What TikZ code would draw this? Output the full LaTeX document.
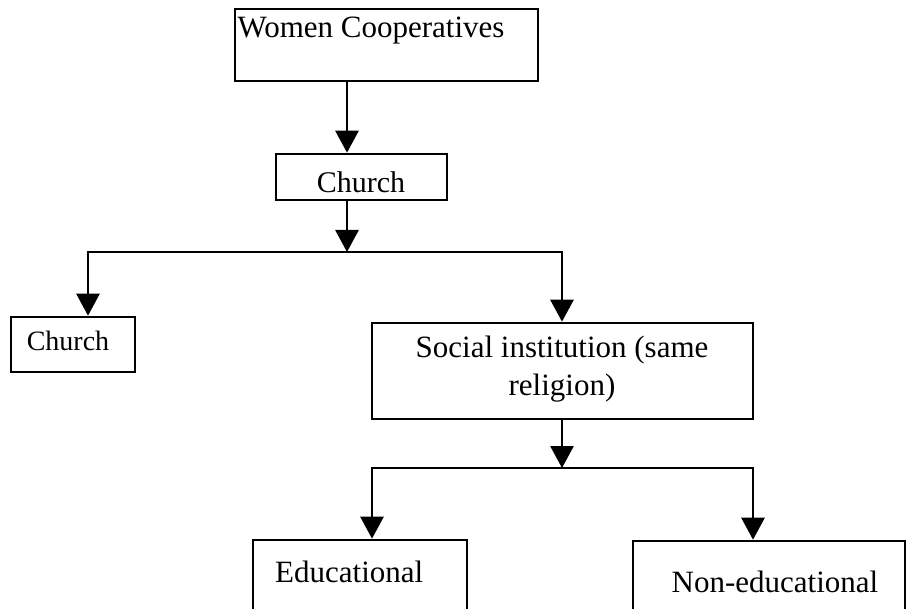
\documentclass[tikz,border=0pt]{standalone}
\usepackage{fontspec}
\setmainfont{Liberation Serif}
\usetikzlibrary{arrows.meta}
\begin{document}
\begin{tikzpicture}[x=1pt,y=-1pt,
  box/.style={draw, line width=2.6pt, inner sep=0pt, rectangle},
  txt/.style={inner sep=0pt, font=\fontsize{31}{38}\selectfont},
  midtxt/.style={inner sep=0pt, font=\fontsize{30}{36}\selectfont},
  smalltxt/.style={inner sep=0pt, font=\fontsize{28}{34}\selectfont},
  conn/.style={line width=2.8pt},
  arr/.style={conn, -{Triangle[width=23pt,length=22pt]}}]
\useasboundingbox (0,0) rectangle (907,609);
\clip (0,0) rectangle (907,609);
% boxes
\node[box, minimum width=303pt, minimum height=72pt] (wc) at (386.5,45) {};
\node[box, minimum width=171pt, minimum height=46pt] (ch1) at (361.5,177) {};
\node[box, minimum width=124pt, minimum height=55pt] (ch3) at (73,344.5) {};
\node[box, minimum width=381pt, minimum height=96pt] (soc) at (562.5,371) {};
\node[box, minimum width=214pt, minimum height=100pt] (edu) at (360,590) {};
\node[box, minimum width=272pt, minimum height=100pt] (non) at (769,591) {};
% texts
\node[txt, anchor=base] (wct) at (371,38) {Women Cooperatives};
\node[midtxt, anchor=base] (ch1t) at (361,193) {Church};
\node[smalltxt, anchor=base] (ch3t) at (68,350) {Church};
\node[txt, anchor=base] (soct1) at (562,357) {Social institution (same};
\node[txt, anchor=base] (soct2) at (562,395) {religion)};
\node[txt, anchor=base west] (edut) at (275,582) {Educational};
\node[txt, anchor=base] (nont) at (775,592) {Non-educational};
% connectors
\coordinate (j1) at (347,252);
\coordinate (jl) at (88,252);
\coordinate (jr) at (562,252);
\draw[arr] (wc.south -| j1) -- (ch1.north -| j1);
\draw[arr] (ch1.south -| j1) -- (j1);
\draw[arr] (j1) -- (jl) -- (ch3.north -| jl);
\draw[arr] (j1) -- (jr) -- (soc.north -| jr);
\coordinate (j2) at (562,468);
\coordinate (j2l) at (372,468);
\coordinate (j2r) at (753,468);
\draw[arr] (soc.south -| j2) -- (j2);
\draw[arr] (j2) -- (j2l) -- (edu.north -| j2l);
\draw[arr] (j2) -- (j2r) -- (non.north -| j2r);
\end{tikzpicture}
\end{document}
